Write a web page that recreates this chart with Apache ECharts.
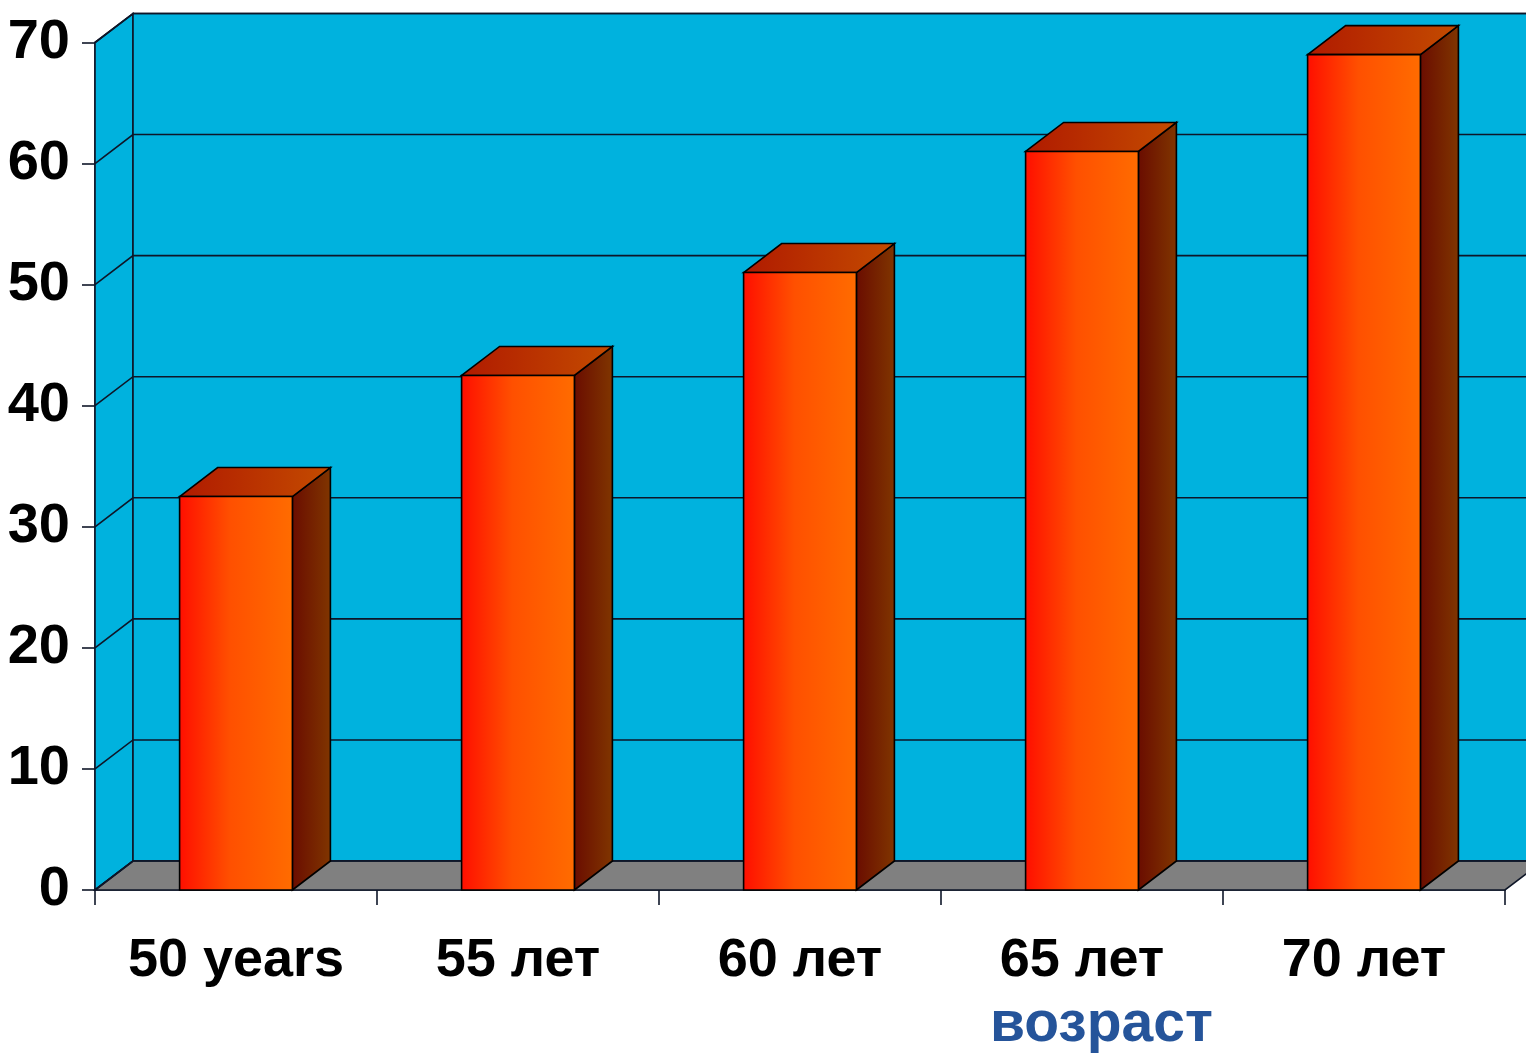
<!DOCTYPE html>
<html>
<head>
<meta charset="utf-8">
<script src="https://cdn.jsdelivr.net/npm/echarts@6/dist/echarts.min.js"></script>
<style>
html,body{margin:0;padding:0;background:#fff;}
#chart{width:1526px;height:1056px;}
</style>
</head>
<body>
<div id="chart"></div>
<script>
const categories = ['50 years', '55 лет', '60 лет', '65 лет', '70 лет'];
const values = [32.5, 42.5, 51, 61, 69];
const yTicks = [0, 10, 20, 30, 40, 50, 60, 70];
const axisTitle = 'возраст';

const DX = 38, DY = -29;
const FONT = "'Liberation Sans', Arial, sans-serif";
const LINE = '#0e1628';

const chart = echarts.init(document.getElementById('chart'));

function wallsRender(params, api) {
  const band = api.size([1, 0])[0];
  const b0 = api.coord([0, 0]);
  const xL = b0[0] - band / 2;
  const xR = xL + band * categories.length;
  const y0 = b0[1];
  const yTop = api.coord([0, yTicks[yTicks.length - 1]])[1];
  const children = [];
  children.push({type: 'polygon', shape: {points: [[xL, yTop], [xL + DX, yTop + DY], [xL + DX, y0 + DY], [xL, y0]]},
    style: {fill: '#00b2de', stroke: LINE, lineWidth: 1.6}});
  children.push({type: 'polygon', shape: {points: [[xL + DX, yTop + DY], [xR + DX, yTop + DY], [xR + DX, y0 + DY], [xL + DX, y0 + DY]]},
    style: {fill: '#00b2de', stroke: LINE, lineWidth: 1.6}});
  children.push({type: 'polygon', shape: {points: [[xL, y0], [xL + DX, y0 + DY], [xR + DX, y0 + DY], [xR, y0]]},
    style: {fill: '#808080', stroke: LINE, lineWidth: 1.6}});
  yTicks.forEach(function (t) {
    const y = api.coord([0, t])[1];
    children.push({type: 'polyline', shape: {points: [[xL, y], [xL + DX, y + DY], [xR + DX, y + DY]]},
      style: {fill: null, stroke: LINE, lineWidth: 1.6}});
  });
  return {type: 'group', children: children};
}

function barRender(params, api) {
  const idx = api.value(0);
  const v = api.value(1);
  const band = api.size([1, 0])[0];
  const base = api.coord([idx, 0]);
  const top = api.coord([idx, v]);
  const w = band * 0.4;
  const x0 = base[0] - w / 2, x1 = base[0] + w / 2, yb = base[1], yt = top[1];
  return {
    type: 'group',
    children: [
      {type: 'polygon', shape: {points: [[x1, yb], [x1 + DX, yb + DY], [x1 + DX, yt + DY], [x1, yt]]},
        style: {fill: {type: 'linear', x: 0, y: 0, x2: 1, y2: 0, colorStops: [
          {offset: 0, color: '#6a0c00'}, {offset: 1, color: '#803600'}]}, stroke: '#000', lineWidth: 1.6}},
      {type: 'polygon', shape: {points: [[x0, yt], [x0 + DX, yt + DY], [x1 + DX, yt + DY], [x1, yt]]},
        style: {fill: {type: 'linear', x: 0, y: 0, x2: 1, y2: 0, colorStops: [
          {offset: 0, color: '#b01a00'}, {offset: 1, color: '#c44c00'}]}, stroke: '#000', lineWidth: 1.6}},
      {type: 'rect', shape: {x: x0, y: yt, width: w, height: yb - yt},
        style: {fill: {type: 'linear', x: 0, y: 0, x2: 1, y2: 0, colorStops: [
          {offset: 0, color: '#ff0e00'}, {offset: 0.45, color: '#ff5000'}, {offset: 1, color: '#ff6c00'}]}, stroke: '#000', lineWidth: 1.6}}
    ]
  };
}

chart.setOption({
  animation: false,
  grid: {left: 95, right: 21, top: 42.5, bottom: 166, containLabel: false},
  xAxis: {
    type: 'category',
    data: categories,
    boundaryGap: true,
    axisLine: {show: true, lineStyle: {color: LINE, width: 1.6}},
    axisTick: {show: true, length: 15, lineStyle: {color: LINE, width: 1.6}},
    axisLabel: {margin: 44, color: '#000', fontFamily: FONT, fontWeight: 'bold', fontSize: 54, interval: 0},
    splitLine: {show: false}
  },
  yAxis: {
    type: 'value',
    min: 0, max: 70, interval: 10,
    axisLine: {show: true, lineStyle: {color: LINE, width: 1.6}},
    axisTick: {show: true, length: 13, lineStyle: {color: LINE, width: 1.6}},
    axisLabel: {margin: 25, color: '#000', fontFamily: FONT, fontWeight: 'bold', fontSize: 56},
    splitLine: {show: false}
  },
  graphic: [{
    type: 'text', left: 990, top: 997,
    style: {text: axisTitle, fill: '#25549a', font: "bold 57px 'Liberation Sans', Arial, sans-serif"}
  }],
  series: [
    {type: 'custom', renderItem: wallsRender, data: [[0, 0]], encode: {x: 0, y: 1}, z: 1, silent: true},
    {type: 'custom', renderItem: barRender, data: values.map(function (v, i) { return [i, v]; }), encode: {x: 0, y: 1}, z: 3}
  ]
});
</script>
</body>
</html>
